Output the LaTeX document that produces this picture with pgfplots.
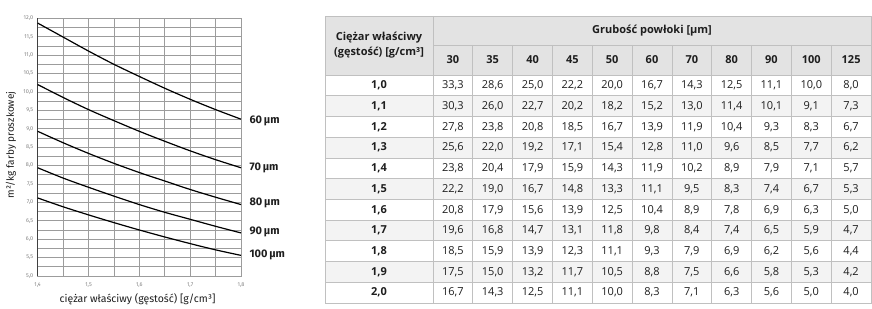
\documentclass[border=0pt]{standalone}
\usepackage{pgfplots}
\pgfplotsset{compat=1.18}
\usepackage{fontspec}
\setmainfont{Fira Sans}
\newfontfamily\tabfont{Open Sans}
\definecolor{gridc}{HTML}{9C9C9C}
\definecolor{tickc}{HTML}{808080}
\definecolor{hdr}{HTML}{E3E3E3}
\definecolor{alt}{HTML}{F3F3F3}
\definecolor{rule}{HTML}{C0C0C0}
\definecolor{txt}{HTML}{1E1E1E}
\tikzset{lab/.style={anchor=west, font=\fontsize{11}{13}\selectfont\bfseries, text=txt, xshift=5pt}}
\newcommand\tf{\tabfont\fontsize{11}{13}\selectfont}
\newcommand\datarow[3]{%
  \pgfmathsetmacro\yc{232-(#1+0.5)*20.73}%
  \node[font=\tf\bfseries,text=txt] at (379,\yc) {#2};%
  \foreach \v [count=\k from 0] in {#3} {%
    \pgfmathsetmacro\xc{433+(\k+0.5)*39.82}%
    \node[font=\tf,text=txt] at (\xc,\yc) {\v};%
  }%
}
\begin{document}
\begin{tikzpicture}[x=1pt,y=1pt]
\path (0,0) rectangle (872,307);
\begin{axis}[
  at={(37.7pt,31pt)}, anchor=south west,
  scale only axis, width=203.3pt, height=257.7pt,
  xmin=1.4, xmax=1.8, ymin=5, ymax=12,
  xtick={1.4,1.5,...,1.8}, ytick={5,5.5,...,12},
  minor xtick={1.45,1.55,1.65,1.75},
  minor ytick={5.25,5.75,...,11.75},
  grid=both,
  major grid style={gridc, line width=0.7pt},
  minor grid style={gridc, line width=0.7pt},
  axis line style={gridc, line width=0.7pt},
  tick style={draw=none},
  /pgf/number format/assume math mode=true,
  /pgf/number format/.cd, fixed, fixed zerofill, precision=1, use comma,
  /pgfplots/.cd,
  tick label style={font=\fontsize{5.5}{6}\selectfont, text=tickc},
  yticklabel style={xshift=-1pt},
  xticklabel style={yshift=-3pt},
  clip=false,
]
\draw[black!75, line width=0.9pt] (axis cs:1.4,5) -- (axis cs:1.4,12);
\addplot[black, line width=1.2pt, smooth] coordinates {(1.40,11.87)(1.45,11.49)(1.50,11.11)(1.55,10.75)(1.60,10.42)(1.65,10.10)(1.70,9.80)(1.75,9.52)(1.80,9.26)};
\addplot[black, line width=1.2pt, smooth] coordinates {(1.40,10.20)(1.45,9.85)(1.50,9.52)(1.55,9.22)(1.60,8.93)(1.65,8.66)(1.70,8.40)(1.75,8.16)(1.80,7.94)};
\addplot[black, line width=1.2pt, smooth] coordinates {(1.40,8.93)(1.45,8.62)(1.50,8.33)(1.55,8.06)(1.60,7.81)(1.65,7.58)(1.70,7.35)(1.75,7.14)(1.80,6.94)};
\addplot[black, line width=1.2pt, smooth] coordinates {(1.40,7.94)(1.45,7.66)(1.50,7.41)(1.55,7.17)(1.60,6.94)(1.65,6.73)(1.70,6.54)(1.75,6.35)(1.80,6.17)};
\addplot[black, line width=1.2pt, smooth] coordinates {(1.40,7.12)(1.45,6.88)(1.50,6.66)(1.55,6.45)(1.60,6.25)(1.65,6.06)(1.70,5.88)(1.75,5.71)(1.80,5.56)};
\node[lab] at (axis cs:1.8,9.22) {60\,µm};
\node[lab] at (axis cs:1.8,7.93) {70\,µm};
\node[lab] at (axis cs:1.8,6.98) {80\,µm};
\node[lab] at (axis cs:1.8,6.21) {90\,µm};
\node[lab] at (axis cs:1.8,5.57) {100\,µm};
\end{axis}
\node[rotate=90, font=\fontsize{10}{12}\selectfont, text=txt] at (11,162) {m²/kg farby proszkowej};
\node[font=\fontsize{10.5}{12}\selectfont, text=txt] at (137.5,7.5) {ciężar właściwy (gęstość) [g/cm³]};
% table backgrounds
\fill[hdr] (325,232) rectangle (871,291);
\foreach \i in {1,3,5,7,9}{\fill[alt] (325,{232-\i*20.73}) rectangle (871,{232-(\i+1)*20.73});}
% rules
\begin{scope}[draw=rule, line width=0.8pt]
\draw (325,291) rectangle (871,3.97);
\draw (433,291) -- (433,3.97);
\draw (433,262) -- (871,262);
\draw (325,232) -- (871,232);
\foreach \i in {1,...,10}{\draw (325,{232-\i*20.73}) -- (871,{232-\i*20.73});}
\foreach \k in {1,...,10}{\draw ({433+\k*39.82},262) -- ({433+\k*39.82},3.97);}
\end{scope}
% header text
\node[align=center, font=\tabfont\fontsize{11}{15}\selectfont\bfseries, text=txt] at (379,261.5) {Ciężar właściwy\\(gęstość) [g/cm³]};
\node[font=\tf\bfseries, text=txt] at (652,276.5) {Grubość powłoki [µm]};
\foreach \h [count=\k from 0] in {30,35,40,45,50,60,70,80,90,100,125}{
  \pgfmathsetmacro\xc{433+(\k+0.5)*39.82}
  \node[font=\tf\bfseries, text=txt] at (\xc,247) {\h};
}
\datarow{0}{1,0}{{33,3},{28,6},{25,0},{22,2},{20,0},{16,7},{14,3},{12,5},{11,1},{10,0},{8,0}}
\datarow{1}{1,1}{{30,3},{26,0},{22,7},{20,2},{18,2},{15,2},{13,0},{11,4},{10,1},{9,1},{7,3}}
\datarow{2}{1,2}{{27,8},{23,8},{20,8},{18,5},{16,7},{13,9},{11,9},{10,4},{9,3},{8,3},{6,7}}
\datarow{3}{1,3}{{25,6},{22,0},{19,2},{17,1},{15,4},{12,8},{11,0},{9,6},{8,5},{7,7},{6,2}}
\datarow{4}{1,4}{{23,8},{20,4},{17,9},{15,9},{14,3},{11,9},{10,2},{8,9},{7,9},{7,1},{5,7}}
\datarow{5}{1,5}{{22,2},{19,0},{16,7},{14,8},{13,3},{11,1},{9,5},{8,3},{7,4},{6,7},{5,3}}
\datarow{6}{1,6}{{20,8},{17,9},{15,6},{13,9},{12,5},{10,4},{8,9},{7,8},{6,9},{6,3},{5,0}}
\datarow{7}{1,7}{{19,6},{16,8},{14,7},{13,1},{11,8},{9,8},{8,4},{7,4},{6,5},{5,9},{4,7}}
\datarow{8}{1,8}{{18,5},{15,9},{13,9},{12,3},{11,1},{9,3},{7,9},{6,9},{6,2},{5,6},{4,4}}
\datarow{9}{1,9}{{17,5},{15,0},{13,2},{11,7},{10,5},{8,8},{7,5},{6,6},{5,8},{5,3},{4,2}}
\datarow{10}{2,0}{{16,7},{14,3},{12,5},{11,1},{10,0},{8,3},{7,1},{6,3},{5,6},{5,0},{4,0}}
\end{tikzpicture}
\end{document}
